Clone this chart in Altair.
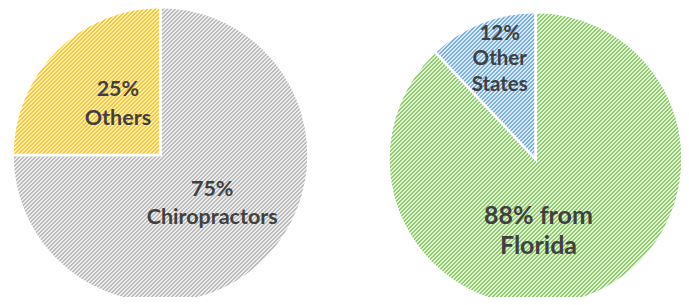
import math
import altair as alt
import pandas as pd

# ---- data ----
left_labels = ["Chiropractors", "Others"]
left_values = [75, 25]
left_text = ["75%\nChiropractors", "25%\nOthers"]
left_colors = ["#BCBCBC", "#FFC629"]

right_labels = ["Florida", "Other States"]
right_values = [88, 12]
right_text = ["88% from\nFlorida", "12%\nOther\nStates"]
right_colors = ["#92CC6C", "#7DB0DF"]


def frame(pie, labels, values, texts):
    start, end, acc = [], [], 0
    for v in values:
        start.append(acc)
        acc += v
        end.append(acc)
    return pd.DataFrame({
        "pie": [pie] * len(labels), "label": labels, "value": values, "text": texts,
        "start": start, "end": end,
        "mid": [(s + e) / 2 for s, e in zip(start, end)],
    })


df = pd.concat([frame(0, left_labels, left_values, left_text),
                frame(1, right_labels, right_values, right_text)], ignore_index=True)
full_df = pd.DataFrame({"pie": [0, 1], "start": [0, 0], "end": [100, 100]})


def hatch(n, alpha=0.7, dark=0.42):
    stops = []
    for i in range(n):
        a, b, c = i / n, (i + dark) / n, (i + 1) / n
        stops += [
            alt.GradientStop(offset=round(a, 5), color="rgba(255,255,255,0)"),
            alt.GradientStop(offset=round(b, 5), color="rgba(255,255,255,0)"),
            alt.GradientStop(offset=round(b, 5), color=f"rgba(255,255,255,{alpha})"),
            alt.GradientStop(offset=round(c, 5), color=f"rgba(255,255,255,{alpha})"),
        ]
    return alt.LinearGradient(gradient="linear", stops=stops, x1=0, y1=0, x2=1, y2=1)


theta_scale = alt.Scale(domain=[0, 100], range=[0, 2 * math.pi])
x_enc = alt.X("pie:Q", scale=alt.Scale(domain=[0, 1], range=[152.5, 527.5]), axis=None)
y_enc = alt.Y("pie:Q", scale=alt.Scale(domain=[0, 1], range=[147, 151]), axis=None)
fill_enc = alt.Fill("label:N",
                    scale=alt.Scale(domain=left_labels + right_labels,
                                    range=left_colors + right_colors),
                    legend=None)
FONT = "Lato"
TXT = "#404040"

layers = []
for pie, r in [(0, 148), (1, 147)]:
    layers.append(
        alt.Chart(df).transform_filter(alt.datum.pie == pie).mark_arc(
            radius=r, stroke="white", strokeWidth=2.5
        ).encode(
            x=x_enc, y=y_enc,
            theta=alt.Theta("start:Q", scale=theta_scale, stack=None),
            theta2="end:Q",
            fill=fill_enc,
        )
    )
    layers.append(
        alt.Chart(full_df).transform_filter(alt.datum.pie == pie).mark_arc(
            radius=r, fill=hatch(int(round(4 * r / 4.0)), 0.72, 0.42)
        ).encode(
            x=x_enc, y=y_enc,
            theta=alt.Theta("start:Q", scale=theta_scale, stack=None),
            theta2="end:Q",
        )
    )

label_cfg = [
    ("Chiropractors", 71, 1.5, -15, 21.5, 28),
    ("Others", 68, 5.5, -17, 21.5, 29),
    ("Florida", 76, -25, -14, 25, 30),
    ("Other States", 108, 4, -25, 20.5, 25.5),
]
for lab, rad, dx, dy, fs, lh in label_cfg:
    layers.append(
        alt.Chart(df).transform_filter(alt.datum.label == lab).mark_text(
            radius=rad, dx=dx, dy=dy, fontSize=fs, fontWeight="bold", font=FONT,
            color=TXT, lineBreak="\n", lineHeight=lh,
            align="center", baseline="middle",
        ).encode(
            x=x_enc, y=y_enc,
            theta=alt.Theta("mid:Q", scale=theta_scale, stack=None),
            text="text:N",
        )
    )

chart = alt.layer(*layers).properties(
    width=673, height=289, padding=0,
    autosize=alt.AutoSizeParams(type="none"),
).configure_view(stroke=None)
chart.save("out.html", embed_options={"renderer": "svg", "actions": False})
